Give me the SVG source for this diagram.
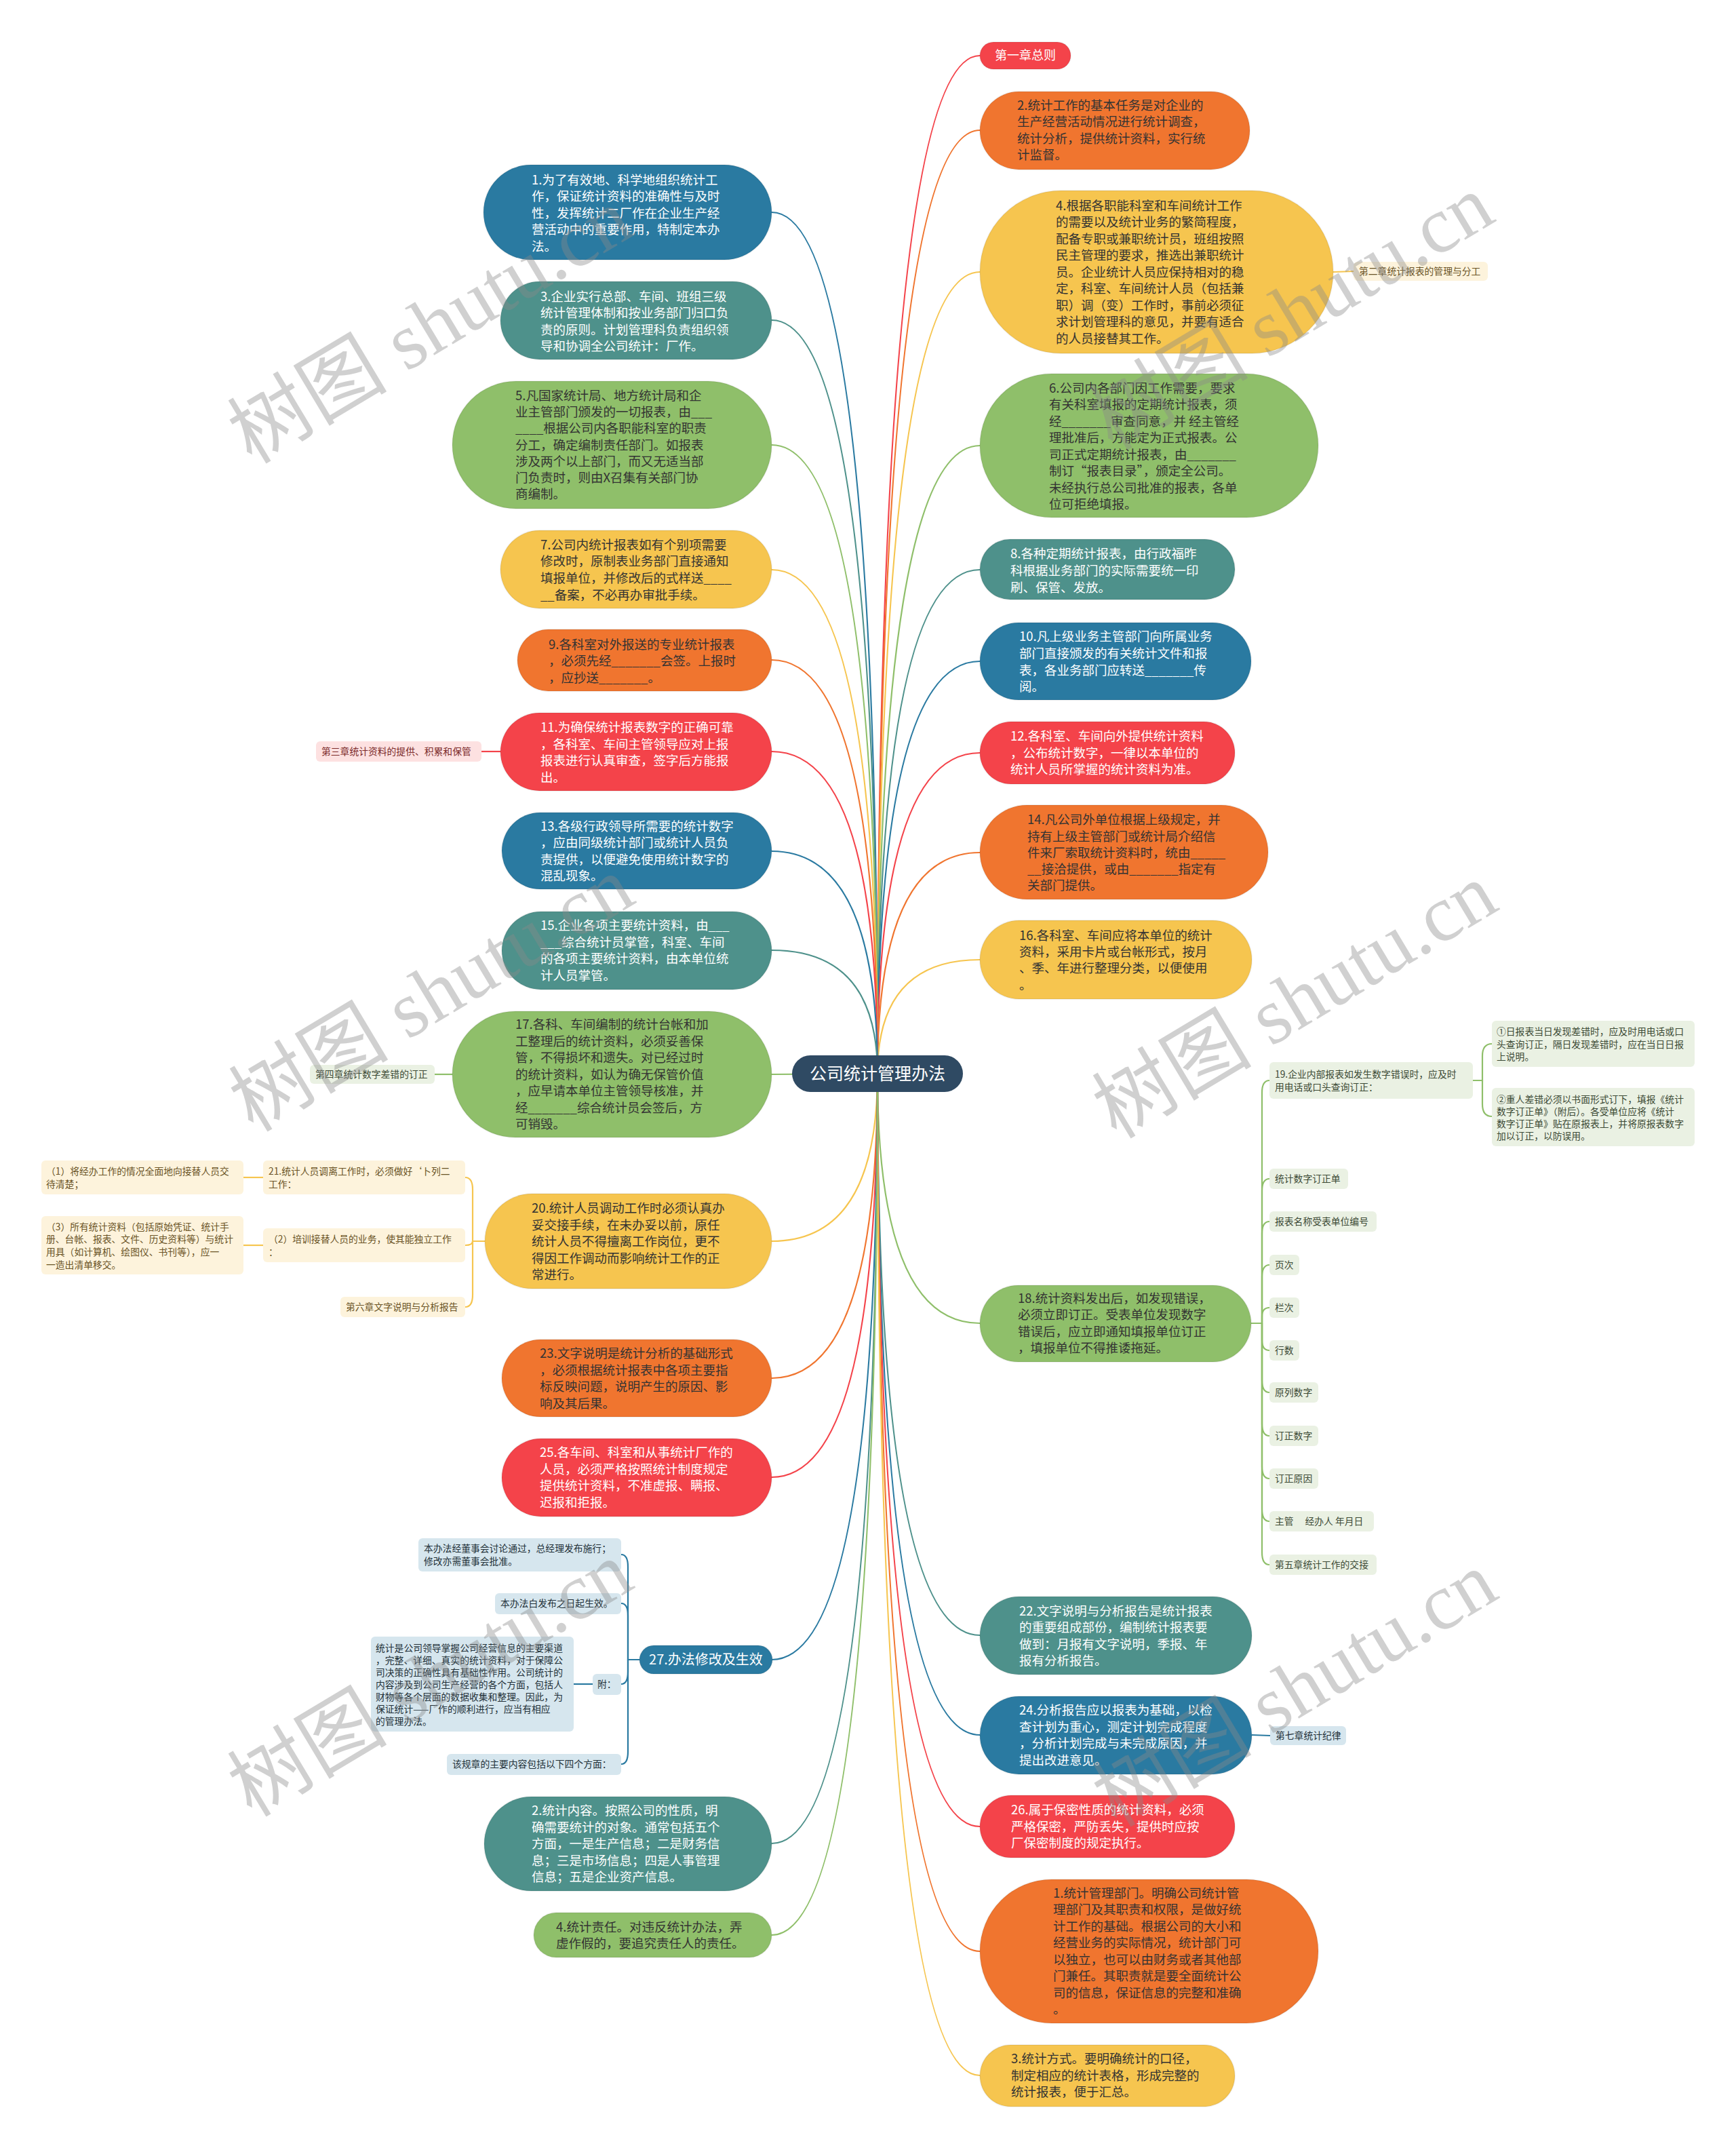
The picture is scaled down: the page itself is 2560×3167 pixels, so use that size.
<svg xmlns="http://www.w3.org/2000/svg" width="2560" height="3167" viewBox="0 0 2560 3167">
<style>
.t{font-family:"Noto Sans CJK SC","Noto Sans",sans-serif;font-size:18.5px}
.s{font-family:"Noto Sans CJK SC","Noto Sans",sans-serif;font-size:13.8px}
.w{fill:#ffffff}.d{fill:#333333}
.blue{fill:#2a7aa1}.teal{fill:#4e918b}.green{fill:#8fbf6a}.yellow{fill:#f6c54f}.orange{fill:#f0752f}.red{fill:#f4434a}
.node rect{stroke:#000;stroke-opacity:0.06;stroke-width:2}
.sy{fill:#fdf3dc}.sp{fill:#fde1e1}.sg{fill:#eaf1e3}.sb{fill:#d6e6ee}
.ty{fill:#6a5326}.tp{fill:#7b2a2a}.tg{fill:#3c4a35}.tb{fill:#223038}
.cb{stroke:#2a7aa1}.ct{stroke:#4e918b}.cg{stroke:#8fbf6a}.cy{stroke:#f6c54f}.co{stroke:#f0752f}.cr{stroke:#f4434a}
.wm{font-family:"Liberation Serif","Noto Sans CJK SC",serif;font-size:118px;fill:#8a8a8a;fill-opacity:0.4}
</style>
<rect width="2560" height="3167" fill="#ffffff"/>
<g id="connectors" fill="none" stroke-width="2.2">
<path class="cr" d="M1294 1583 Q1294 82 1445 82"/>
<path class="co" d="M1294 1583 Q1294 192 1445 192"/>
<path class="cy" d="M1294 1583 Q1294 401 1445 401"/>
<path class="cg" d="M1294 1583 Q1294 657 1445 657"/>
<path class="ct" d="M1294 1583 Q1294 840 1445 840"/>
<path class="cb" d="M1294 1583 Q1294 975 1445 975"/>
<path class="cr" d="M1294 1583 Q1294 1110 1445 1110"/>
<path class="co" d="M1294 1583 Q1294 1257 1445 1257"/>
<path class="cy" d="M1294 1583 Q1294 1415 1445 1415"/>
<path class="cg" d="M1294 1583 Q1294 1951 1445 1951"/>
<path class="ct" d="M1294 1583 Q1294 2411 1445 2411"/>
<path class="cb" d="M1294 1583 Q1294 2558 1445 2558"/>
<path class="cr" d="M1294 1583 Q1294 2693 1445 2693"/>
<path class="co" d="M1294 1583 Q1294 2877 1445 2877"/>
<path class="cy" d="M1294 1583 Q1294 3060 1445 3060"/>
<path class="cb" d="M1294 1583 Q1294 313 1138 313"/>
<path class="ct" d="M1294 1583 Q1294 472 1138 472"/>
<path class="cg" d="M1294 1583 Q1294 656 1138 656"/>
<path class="cy" d="M1294 1583 Q1294 840 1138 840"/>
<path class="co" d="M1294 1583 Q1294 973 1138 973"/>
<path class="cr" d="M1294 1583 Q1294 1108 1138 1108"/>
<path class="cb" d="M1294 1583 Q1294 1255 1138 1255"/>
<path class="ct" d="M1294 1583 Q1294 1401 1138 1401"/>
<path class="cg" d="M1294 1583 L1138 1584"/>
<path class="cy" d="M1294 1583 Q1294 1830 1138 1830"/>
<path class="co" d="M1294 1583 Q1294 2032 1138 2032"/>
<path class="cr" d="M1294 1583 Q1294 2178 1138 2178"/>
<path class="cb" d="M1294 1583 Q1294 2447 1138 2447"/>
<path class="ct" d="M1294 1583 Q1294 2718 1138 2718"/>
<path class="cg" d="M1294 1583 Q1294 2853 1138 2853"/>
<!-- single links -->
<path class="cy" d="M1966 401 L1996 400"/>
<path class="cr" d="M710 1108 L738 1108"/>
<path class="cg" d="M641 1584 L667 1584"/>
<path class="cb" d="M1846 2558 L1873 2559"/>
<path class="cy" d="M359 1736 L388 1736"/>
<path class="cy" d="M359 1836 L388 1836"/>
<path class="cb" d="M846 2483 L874 2483"/>
<!-- N18 children -->
<path class="cg" d="M1845 1951 L1861 1951 L1861 1611 Q1861 1593 1872 1593"/>
<path class="cg" d="M1861 1951 L1861 1756 Q1861 1738 1872 1738"/>
<path class="cg" d="M1861 1951 L1861 1819 Q1861 1801 1872 1801"/>
<path class="cg" d="M1861 1951 L1861 1883 Q1861 1865 1872 1865"/>
<path class="cg" d="M1861 1951 L1861 1941 Q1861 1928 1872 1928"/>
<path class="cg" d="M1861 1951 L1861 1976 Q1861 1991 1872 1991"/>
<path class="cg" d="M1861 1951 L1861 2035 Q1861 2053 1872 2053"/>
<path class="cg" d="M1861 1951 L1861 2099 Q1861 2117 1872 2117"/>
<path class="cg" d="M1861 1951 L1861 2162 Q1861 2180 1872 2180"/>
<path class="cg" d="M1861 1951 L1861 2225 Q1861 2243 1872 2243"/>
<path class="cg" d="M1861 1951 L1861 2289 Q1861 2307 1872 2307"/>
<!-- 19 children -->
<path class="cg" d="M2172 1593 L2186 1593 L2186 1557 Q2186 1539 2200 1539"/>
<path class="cg" d="M2186 1593 L2186 1628 Q2186 1646 2200 1646"/>
<!-- N20 children -->
<path class="cy" d="M715 1830 L697 1830 L697 1754 Q697 1736 686 1736"/>
<path class="cy" d="M697 1830 Q697 1836 686 1836"/>
<path class="cy" d="M697 1830 L697 1909 Q697 1927 686 1927"/>
<!-- N27 children -->
<path class="cb" d="M943 2447 L926 2447 L926 2310 Q926 2292 916 2292"/>
<path class="cb" d="M926 2447 L926 2382 Q926 2364 916 2364"/>
<path class="cb" d="M926 2447 L926 2465 Q926 2483 916 2483"/>
<path class="cb" d="M926 2447 L926 2583 Q926 2601 916 2601"/>
</g>

<g id="root"><rect x="1168" y="1556" width="252" height="54" rx="27" fill="#2f4a63"/><text class="t w" x="1294" y="1592" font-size="25" text-anchor="middle" style="font-size:25px">公司统计管理办法</text></g>

<!-- Right side main nodes -->
<g id="r-ch1" class="node"><rect class="red" x="1445" y="62" width="134" height="40" rx="20"/><text class="t w" x="1512" y="88" text-anchor="middle" style="font-size:18px">第一章总则</text></g>
<g id="r-n2" class="node"><rect class="orange" x="1445" y="135" width="398" height="115" rx="57.5"/><text class="t d"><tspan x="1500" y="162">2.统计工作的基本任务是对企业的</tspan><tspan x="1500" y="186">生产经营活动情况进行统计调查，</tspan><tspan x="1500" y="211">统计分析，提供统计资料，实行统</tspan><tspan x="1500" y="235">计监督。</tspan></text></g>
<g id="r-n4" class="node"><rect class="yellow" x="1445" y="281" width="521" height="240" rx="120"/><text class="t d"><tspan x="1557" y="310">4.根据各职能科室和车间统计工作</tspan><tspan x="1557" y="334">的需要以及统计业务的繁简程度，</tspan><tspan x="1557" y="359">配备专职或兼职统计员，班组按照</tspan><tspan x="1557" y="383">民主管理的要求，推选出兼职统计</tspan><tspan x="1557" y="408">员。企业统计人员应保持相对的稳</tspan><tspan x="1557" y="432">定，科室、车间统计人员（包括兼</tspan><tspan x="1557" y="457">职）调（变）工作时，事前必须征</tspan><tspan x="1557" y="481">求计划管理科的意见，并要有适合</tspan><tspan x="1557" y="506">的人员接替其工作。</tspan></text></g>
<g id="r-ch2"><rect class="sy" x="1996" y="386" width="198" height="28" rx="6"/><text class="s ty" x="2004" y="405">第二章统计报表的管理与分工</text></g>
<g id="r-n6" class="node"><rect class="green" x="1445" y="551" width="499" height="212" rx="106"/><text class="t d"><tspan x="1547" y="579">6.公司内各部门因工作需要，要求</tspan><tspan x="1547" y="603">有关科室填报的定期统计报表，须</tspan><tspan x="1547" y="628">经_______审查同意，并 经主管经</tspan><tspan x="1547" y="652">理批准后，方能定为正式报表。公</tspan><tspan x="1547" y="677">司正式定期统计报表，由_______</tspan><tspan x="1547" y="701">制订“报表目录”，颁定全公司。</tspan><tspan x="1547" y="726">未经执行总公司批准的报表，各单</tspan><tspan x="1547" y="750">位可拒绝填报。</tspan></text></g>
<g id="r-n8" class="node"><rect class="teal" x="1445" y="795" width="376" height="89" rx="44.5"/><text class="t w"><tspan x="1490" y="823">8.各种定期统计报表，由行政福昨</tspan><tspan x="1490" y="848">科根据业务部门的实际需要统一印</tspan><tspan x="1490" y="873">刷、保管、发放。</tspan></text></g>
<g id="r-n10" class="node"><rect class="blue" x="1445" y="918" width="400" height="114" rx="57"/><text class="t w"><tspan x="1503" y="945">10.凡上级业务主管部门向所属业务</tspan><tspan x="1503" y="970">部门直接颁发的有关统计文件和报</tspan><tspan x="1503" y="995">表，各业务部门应转送_______传</tspan><tspan x="1503" y="1019">阅。</tspan></text></g>
<g id="r-n12" class="node"><rect class="red" x="1445" y="1064" width="376" height="92" rx="46"/><text class="t w"><tspan x="1490" y="1092">12.各科室、车间向外提供统计资料</tspan><tspan x="1490" y="1117">，公布统计数字，一律以本单位的</tspan><tspan x="1490" y="1141">统计人员所掌握的统计资料为准。</tspan></text></g>
<g id="r-n14" class="node"><rect class="orange" x="1445" y="1187" width="425" height="139" rx="69.5"/><text class="t d"><tspan x="1515" y="1215">14.凡公司外单位根据上级规定，并</tspan><tspan x="1515" y="1240">持有上级主管部门或统计局介绍信</tspan><tspan x="1515" y="1264">件来厂索取统计资料时，统由_____</tspan><tspan x="1515" y="1288">__接洽提供，或由_______指定有</tspan><tspan x="1515" y="1312">关部门提供。</tspan></text></g>
<g id="r-n16" class="node"><rect class="yellow" x="1445" y="1357" width="401" height="116" rx="58"/><text class="t d"><tspan x="1503" y="1386">16.各科室、车间应将本单位的统计</tspan><tspan x="1503" y="1410">资料，采用卡片或台帐形式，按月</tspan><tspan x="1503" y="1434">、季、年进行整理分类，以便使用</tspan><tspan x="1503" y="1459">。</tspan></text></g>
<g id="r-n18" class="node"><rect class="green" x="1445" y="1895" width="400" height="113" rx="56.5"/><text class="t d"><tspan x="1501" y="1921">18.统计资料发出后，如发现错误，</tspan><tspan x="1501" y="1945">必须立即订正。受表单位发现数字</tspan><tspan x="1501" y="1970">错误后，应立即通知填报单位订正</tspan><tspan x="1501" y="1994">，填报单位不得推诿拖延。</tspan></text></g>
<g id="r-n19"><rect class="sg" x="1872" y="1566" width="300" height="54" rx="6"/><text class="s tg"><tspan x="1880" y="1589">19.企业内部报表如发生数字错误时，应及时</tspan><tspan x="1880" y="1608">用电话或口头查询订正：</tspan></text></g>
<g id="r-n19a"><rect class="sg" x="2200" y="1505" width="299" height="68" rx="6"/><text class="s tg"><tspan x="2207" y="1526">①日报表当日发现差错时，应及时用电话或口</tspan><tspan x="2207" y="1545">头查询订正，隔日发现差错时，应在当日日报</tspan><tspan x="2207" y="1563">上说明。</tspan></text></g>
<g id="r-n19b"><rect class="sg" x="2200" y="1604" width="299" height="86" rx="6"/><text class="s tg"><tspan x="2207" y="1626">②重人差错必须以书面形式订下，填报《统计</tspan><tspan x="2207" y="1644">数字订正单》（附后）。各受单位应将《统计</tspan><tspan x="2207" y="1662">数字订正单》贴在原报表上，并将原报表数字</tspan><tspan x="2207" y="1680">加以订正，以防误用。</tspan></text></g>
<g id="r-l1"><rect class="sg" x="1872" y="1723" width="116" height="30" rx="6"/><text class="s tg" x="1880" y="1743">统计数字订正单</text></g>
<g id="r-l2"><rect class="sg" x="1872" y="1786" width="158" height="30" rx="6"/><text class="s tg" x="1880" y="1806">报表名称受表单位编号</text></g>
<g id="r-l3"><rect class="sg" x="1872" y="1850" width="44" height="30" rx="6"/><text class="s tg" x="1880" y="1870">页次</text></g>
<g id="r-l4"><rect class="sg" x="1872" y="1913" width="44" height="30" rx="6"/><text class="s tg" x="1880" y="1933">栏次</text></g>
<g id="r-l5"><rect class="sg" x="1872" y="1976" width="44" height="30" rx="6"/><text class="s tg" x="1880" y="1996">行数</text></g>
<g id="r-l6"><rect class="sg" x="1872" y="2038" width="72" height="30" rx="6"/><text class="s tg" x="1880" y="2058">原列数字</text></g>
<g id="r-l7"><rect class="sg" x="1872" y="2102" width="72" height="30" rx="6"/><text class="s tg" x="1880" y="2122">订正数字</text></g>
<g id="r-l8"><rect class="sg" x="1872" y="2165" width="72" height="30" rx="6"/><text class="s tg" x="1880" y="2185">订正原因</text></g>
<g id="r-l9"><rect class="sg" x="1872" y="2228" width="154" height="30" rx="6"/><text class="s tg" x="1880" y="2248">主管　 经办人 年月日</text></g>
<g id="r-l10"><rect class="sg" x="1872" y="2292" width="158" height="30" rx="6"/><text class="s tg" x="1880" y="2312">第五章统计工作的交接</text></g>
<g id="r-n22" class="node"><rect class="teal" x="1445" y="2354" width="401" height="115" rx="57.5"/><text class="t w"><tspan x="1503" y="2382">22.文字说明与分析报告是统计报表</tspan><tspan x="1503" y="2406">的重要组成部份，编制统计报表要</tspan><tspan x="1503" y="2431">做到：月报有文字说明，季报、年</tspan><tspan x="1503" y="2455">报有分析报告。</tspan></text></g>
<g id="r-n24" class="node"><rect class="blue" x="1445" y="2501" width="401" height="115" rx="57.5"/><text class="t w"><tspan x="1503" y="2528">24.分析报告应以报表为基础，以检</tspan><tspan x="1503" y="2553">查计划为重心，测定计划完成程度</tspan><tspan x="1503" y="2577">，分析计划完成与未完成原因，并</tspan><tspan x="1503" y="2602">提出改进意见。</tspan></text></g>
<g id="r-ch7"><rect class="sb" x="1873" y="2545" width="112" height="28" rx="6"/><text class="s tb" x="1881" y="2564">第七章统计纪律</text></g>
<g id="r-n26" class="node"><rect class="red" x="1445" y="2647" width="376" height="92" rx="46"/><text class="t w"><tspan x="1491" y="2675">26.属于保密性质的统计资料，必须</tspan><tspan x="1491" y="2700">严格保密，严防丢失，提供时应按</tspan><tspan x="1491" y="2724">厂保密制度的规定执行。</tspan></text></g>
<g id="r-n1b" class="node"><rect class="orange" x="1445" y="2771" width="499" height="212" rx="106"/><text class="t d"><tspan x="1553" y="2798">1.统计管理部门。明确公司统计管</tspan><tspan x="1553" y="2822">理部门及其职责和权限，是做好统</tspan><tspan x="1553" y="2847">计工作的基础。根据公司的大小和</tspan><tspan x="1553" y="2871">经营业务的实际情况，统计部门可</tspan><tspan x="1553" y="2896">以独立，也可以由财务或者其他部</tspan><tspan x="1553" y="2920">门兼任。其职责就是要全面统计公</tspan><tspan x="1553" y="2945">司的信息，保证信息的完整和准确</tspan><tspan x="1553" y="2969">。</tspan></text></g>
<g id="r-n3b" class="node"><rect class="yellow" x="1445" y="3015" width="376" height="91" rx="45.5"/><text class="t d"><tspan x="1491" y="3042">3.统计方式。要明确统计的口径，</tspan><tspan x="1491" y="3067">制定相应的统计表格，形成完整的</tspan><tspan x="1491" y="3091">统计报表，便于汇总。</tspan></text></g>

<!-- Left side main nodes -->
<g id="l-n1" class="node"><rect class="blue" x="713" y="243" width="425" height="140" rx="70"/><text class="t w"><tspan x="784" y="272">1.为了有效地、科学地组织统计工</tspan><tspan x="784" y="296">作，保证统计资料的准确性与及时</tspan><tspan x="784" y="321">性，发挥统计二厂作在企业生产经</tspan><tspan x="784" y="345">营活动中的重要作用，特制定本办</tspan><tspan x="784" y="370">法。</tspan></text></g>
<g id="l-n3" class="node"><rect class="teal" x="738" y="415" width="400" height="115" rx="57.5"/><text class="t w"><tspan x="797" y="444">3.企业实行总部、车间、班组三级</tspan><tspan x="797" y="468">统计管理体制和按业务部门归口负</tspan><tspan x="797" y="493">责的原则。计划管理科负责组织领</tspan><tspan x="797" y="517">导和协调全公司统计：厂作。</tspan></text></g>
<g id="l-n5" class="node"><rect class="green" x="667" y="562" width="471" height="188" rx="94"/><text class="t d"><tspan x="760" y="590">5.凡国家统计局、地方统计局和企</tspan><tspan x="760" y="614">业主管部门颁发的一切报表，由___</tspan><tspan x="760" y="638">____根据公司内各职能科室的职责</tspan><tspan x="760" y="663">分工，确定编制责任部门。如报表</tspan><tspan x="760" y="687">涉及两个以上部门，而又无适当部</tspan><tspan x="760" y="711">门负责时，则由X召集有关部门协</tspan><tspan x="760" y="735">商编制。</tspan></text></g>
<g id="l-n7" class="node"><rect class="yellow" x="738" y="782" width="400" height="115" rx="57.5"/><text class="t d"><tspan x="797" y="810">7.公司内统计报表如有个别项需要</tspan><tspan x="797" y="834">修改时，原制表业务部门直接通知</tspan><tspan x="797" y="859">填报单位，并修改后的式样送____</tspan><tspan x="797" y="884">__备案，不必再办审批手续。</tspan></text></g>
<g id="l-n9" class="node"><rect class="orange" x="763" y="928" width="375" height="91" rx="45.5"/><text class="t d"><tspan x="809" y="957">9.各科室对外报送的专业统计报表</tspan><tspan x="809" y="981">，必须先经_______会签。上报时</tspan><tspan x="809" y="1006">，应抄送_______。</tspan></text></g>
<g id="l-ch3"><rect class="sp" x="466" y="1093" width="244" height="30" rx="6"/><text class="s tp" x="474" y="1113">第三章统计资料的提供、积累和保管</text></g>
<g id="l-n11" class="node"><rect class="red" x="738" y="1051" width="400" height="115" rx="57.5"/><text class="t w"><tspan x="797" y="1079">11.为确保统计报表数字的正确可靠</tspan><tspan x="797" y="1104">，各科室、车间主管领导应对上报</tspan><tspan x="797" y="1128">报表进行认真审查，签字后方能报</tspan><tspan x="797" y="1153">出。</tspan></text></g>
<g id="l-n13" class="node"><rect class="blue" x="740" y="1198" width="398" height="113" rx="56.5"/><text class="t w"><tspan x="797" y="1225">13.各级行政领导所需要的统计数字</tspan><tspan x="797" y="1249">，应由同级统计部门或统计人员负</tspan><tspan x="797" y="1274">责提供，以便避免使用统计数字的</tspan><tspan x="797" y="1298">混乱现象。</tspan></text></g>
<g id="l-n15" class="node"><rect class="teal" x="740" y="1344" width="398" height="115" rx="57.5"/><text class="t w"><tspan x="797" y="1371">15.企业各项主要统计资料，由___</tspan><tspan x="797" y="1396">___综合统计员掌管，科室、车间</tspan><tspan x="797" y="1420">的各项主要统计资料，由本单位统</tspan><tspan x="797" y="1445">计人员掌管。</tspan></text></g>
<g id="l-ch4"><rect class="sg" x="457" y="1570" width="184" height="28" rx="6"/><text class="s tg" x="465" y="1589">第四章统计数字差错的订正</text></g>
<g id="l-n17" class="node"><rect class="green" x="667" y="1491" width="471" height="186" rx="93"/><text class="t d"><tspan x="760" y="1517">17.各科、车间编制的统计台帐和加</tspan><tspan x="760" y="1542">工整理后的统计资料，必须妥善保</tspan><tspan x="760" y="1566">管，不得损坏和遗失。对已经过时</tspan><tspan x="760" y="1591">的统计资料，如认为确无保管价值</tspan><tspan x="760" y="1615">，应早请本单位主管领导核准，并</tspan><tspan x="760" y="1640">经_______综合统计员会签后，方</tspan><tspan x="760" y="1664">可销毁。</tspan></text></g>
<g id="l-n21"><rect class="sy" x="388" y="1711" width="298" height="50" rx="6"/><text class="s ty"><tspan x="396" y="1732">21.统计人员调离工作时，必须做好‘卜列二</tspan><tspan x="396" y="1751">工作：</tspan></text></g>
<g id="l-n21a"><rect class="sy" x="61" y="1711" width="298" height="50" rx="6"/><text class="s ty"><tspan x="68" y="1732">（1）将经办工作的情况全面地向接替人员交</tspan><tspan x="68" y="1751">待清楚；</tspan></text></g>
<g id="l-n21b"><rect class="sy" x="388" y="1811" width="298" height="50" rx="6"/><text class="s ty"><tspan x="396" y="1832">（2）培训接替人员的业务，使其能独立工作</tspan><tspan x="396" y="1851">：</tspan></text></g>
<g id="l-n21c"><rect class="sy" x="61" y="1793" width="298" height="86" rx="6"/><text class="s ty"><tspan x="68" y="1814">（3）所有统计资料（包括原始凭证、统计手</tspan><tspan x="68" y="1832">册、台帐、报表、文件、历史资料等）与统计</tspan><tspan x="68" y="1851">用具（如计算机、绘图仪、书刊等），应一</tspan><tspan x="68" y="1870">一造出清单移交。</tspan></text></g>
<g id="l-ch6"><rect class="sy" x="502" y="1912" width="184" height="30" rx="6"/><text class="s ty" x="510" y="1932">第六章文字说明与分析报告</text></g>
<g id="l-n20" class="node"><rect class="yellow" x="715" y="1760" width="423" height="140" rx="70"/><text class="t d"><tspan x="784" y="1788">20.统计人员调动工作时必须认真办</tspan><tspan x="784" y="1813">妥交接手续，在未办妥以前，原任</tspan><tspan x="784" y="1837">统计人员不得擅离工作岗位，更不</tspan><tspan x="784" y="1862">得因工作调动而影响统计工作的正</tspan><tspan x="784" y="1886">常进行。</tspan></text></g>
<g id="l-n23" class="node"><rect class="orange" x="740" y="1975" width="398" height="114" rx="57"/><text class="t d"><tspan x="796" y="2002">23.文字说明是统计分析的基础形式</tspan><tspan x="796" y="2027">，必须根据统计报表中各项主要指</tspan><tspan x="796" y="2051">标反映问题，说明产生的原因、影</tspan><tspan x="796" y="2076">响及其后果。</tspan></text></g>
<g id="l-n25" class="node"><rect class="red" x="740" y="2121" width="398" height="115" rx="57.5"/><text class="t w"><tspan x="796" y="2148">25.各车间、科室和从事统计厂作的</tspan><tspan x="796" y="2173">人员，必须严格按照统计制度规定</tspan><tspan x="796" y="2197">提供统计资料，不准虚报、瞒报、</tspan><tspan x="796" y="2222">迟报和拒报。</tspan></text></g>
<g id="l-n27a"><rect class="sb" x="617" y="2268" width="299" height="49" rx="6"/><text class="s tb"><tspan x="625" y="2288">本办法经董事会讨论通过，总经理发布施行；</tspan><tspan x="625" y="2307">修改亦需董事会批准。</tspan></text></g>
<g id="l-n27b"><rect class="sb" x="730" y="2349" width="186" height="31" rx="6"/><text class="s tb" x="738" y="2369">本办法白发布之日起生效。</text></g>
<g id="l-n27c"><rect class="sb" x="874" y="2468" width="42" height="31" rx="6"/><text class="s tb" x="881" y="2488">附：</text></g>
<g id="l-n27c1"><rect class="sb" x="547" y="2413" width="299" height="140" rx="6"/><text class="s tb"><tspan x="554" y="2435">统计是公司领导掌握公司经营信息的主要渠道</tspan><tspan x="554" y="2453">，完整、详细、真实的统计资料，对于保障公</tspan><tspan x="554" y="2471">司决策的正确性具有基础性作用。公司统计的</tspan><tspan x="554" y="2489">内容涉及到公司生产经营的各个方面，包括人</tspan><tspan x="554" y="2507">财物等各个层面的数据收集和整理。因此，为</tspan><tspan x="554" y="2525">保证统计——厂作的顺利进行，应当有相应</tspan><tspan x="554" y="2543">的管理办法。</tspan></text></g>
<g id="l-n27d"><rect class="sb" x="659" y="2586" width="257" height="31" rx="6"/><text class="s tb" x="667" y="2606">该规章的主要内容包括以下四个方面：</text></g>
<g id="l-n27" class="node"><rect class="blue" x="943" y="2426" width="196" height="42" rx="21"/><text class="t w" x="1041" y="2454" text-anchor="middle" style="font-size:20px">27.办法修改及生效</text></g>
<g id="l-n2b" class="node"><rect class="teal" x="714" y="2649" width="424" height="139" rx="69.5"/><text class="t w"><tspan x="784" y="2676">2.统计内容。按照公司的性质，明</tspan><tspan x="784" y="2701">确需要统计的对象。通常包括五个</tspan><tspan x="784" y="2725">方面，一是生产信息；二是财务信</tspan><tspan x="784" y="2750">息；三是市场信息；四是人事管理</tspan><tspan x="784" y="2774">信息；五是企业资产信息。</tspan></text></g>
<g id="l-n4b" class="node"><rect class="green" x="787" y="2820" width="351" height="66" rx="33"/><text class="t d"><tspan x="820" y="2848">4.统计责任。对违反统计办法，弄</tspan><tspan x="820" y="2872">虚作假的，要追究责任人的责任。</tspan></text></g>

<g id="watermarks">
<text class="wm" transform="translate(655,515) rotate(-31)" text-anchor="middle">树图 shutu.cn</text>
<text class="wm" transform="translate(1925,495) rotate(-31)" text-anchor="middle">树图 shutu.cn</text>
<text class="wm" transform="translate(657,1500) rotate(-31)" text-anchor="middle">树图 shutu.cn</text>
<text class="wm" transform="translate(1930,1510) rotate(-31)" text-anchor="middle">树图 shutu.cn</text>
<text class="wm" transform="translate(655,2510) rotate(-31)" text-anchor="middle">树图 shutu.cn</text>
<text class="wm" transform="translate(1930,2525) rotate(-31)" text-anchor="middle">树图 shutu.cn</text>
</g>
</svg>
